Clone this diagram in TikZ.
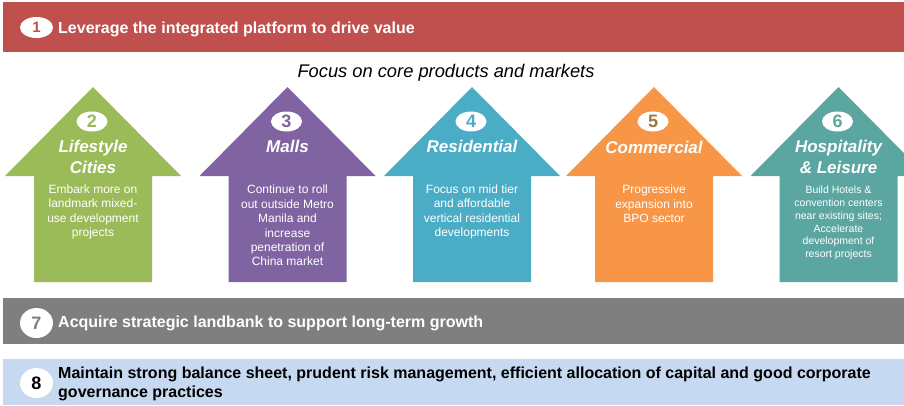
\documentclass[tikz,border=0pt]{standalone}
\usepackage{fontspec}
\setmainfont{Liberation Sans}
\usetikzlibrary{shapes.geometric, positioning}
\definecolor{lcred}{HTML}{C0504D}
\definecolor{lcgreen}{HTML}{9BBB59}
\definecolor{lcpurple}{HTML}{8064A2}
\definecolor{lcblue}{HTML}{4BACC6}
\definecolor{lcorange}{HTML}{F79646}
\definecolor{lcteal}{HTML}{5CA6A2}
\definecolor{lcbrown}{HTML}{9C7A3C}
\definecolor{lcgrey}{HTML}{7F7F7F}
\definecolor{lcpale}{HTML}{C6D9F1}

\begin{document}
\begin{tikzpicture}[x=1pt, y=-1pt,
	band/.style={anchor=base west, inner sep=0, font=\bfseries\fontsize{16}{19}\selectfont},
	badge/.style={ellipse, fill=white, inner sep=0, minimum width=33pt, minimum height=21pt, font=\bfseries\fontsize{15}{18}\selectfont},
	ttl/.style={anchor=north, inner sep=0, align=center, text=white, font=\bfseries\itshape\fontsize{17}{20.7}\selectfont},
	body/.style={anchor=north, inner sep=0, align=center, text=white, font=\fontsize{12}{14.4}\selectfont}]
	\path[use as bounding box] (0,0) rectangle (904,405);
	\clip (0,0) rectangle (904,405);
	% bands
	\fill[lcred] (3,2) rectangle (904,52);
	\fill[lcgrey] (3,298) rectangle (904,344);
	\fill[lcpale] (3,359) rectangle (904,405);
	\node[badge, text=lcred] (n1) at (36.5,27.5) {1};
	\node[band, text=white] (lev) at (58,33.3) {Leverage the integrated platform to drive value};
	\node[badge, minimum height=30pt, font=\bfseries\fontsize{18}{20}\selectfont, text=lcgrey] (n7) at (36.5,323) {7};
	\node[band, text=white] (acq) at (58,327.7) {Acquire strategic landbank to support long-term growth};
	\node[badge, minimum height=30pt, font=\bfseries\fontsize{18}{20}\selectfont, text=black] (n8) at (36.5,383) {8};
	\node[band, anchor=north west, align=left, font=\bfseries\fontsize{16}{19}\selectfont] (bal) at (58,366.6)
		{Maintain strong balance sheet, prudent risk management, efficient allocation of capital and good corporate\\governance practices};
	\node[anchor=base, inner sep=0, font=\itshape\fontsize{18.3}{21}\selectfont] (focus) at (446,77.3) {Focus on core products and markets};
	% arrows
	\foreach \cx/\col/\tc/\k in {93/lcgreen/lcgreen/2, 287.5/lcpurple/lcpurple/3, 472/lcblue/lcblue/4, 654/lcorange/lcbrown/5, 838.5/lcteal/lcteal/6}{
		\fill[\col] (\cx,87) -- ++(88,89) -- ++(-29,0) -- ++(0,106) -- ++(-118,0) -- ++(0,-106) -- ++(-29,0) -- cycle;
		\node[badge, minimum width=31pt, minimum height=20pt, font=\bfseries\fontsize{18}{20}\selectfont, text=\tc] (n\k) at (\cx-1,121.5) {\k};
	}
	\node[ttl] (t2) at (93,140) {Lifestyle\\Cities};
	\node[ttl] (t3) at (287.5,140) {Malls};
	\node[ttl] (t4) at (472,140) {Residential};
	\node[ttl] (t5) at (654,140.5) {Commercial};
	\node[ttl] (t6) at (838.5,140) {Hospitality\\\& Leisure};
	\node[body] (b2) at (93,184.5) {Embark more on\\landmark mixed-\\use development\\projects};
	\node[body] (b3) at (287.5,185) {Continue to roll\\out outside Metro\\Manila and\\increase\\penetration of\\China market};
	\node[body] (b4) at (472,184.5) {Focus on mid tier\\and affordable\\vertical residential\\developments};
	\node[body] (b5) at (654,185) {Progressive\\expansion into\\BPO sector};
	\node[body, font=\fontsize{10.5}{12.9}\selectfont] (b6) at (838.5,185.5) {Build Hotels \&\\convention centers\\near existing sites;\\Accelerate\\development of\\resort projects};
\end{tikzpicture}
\end{document}
